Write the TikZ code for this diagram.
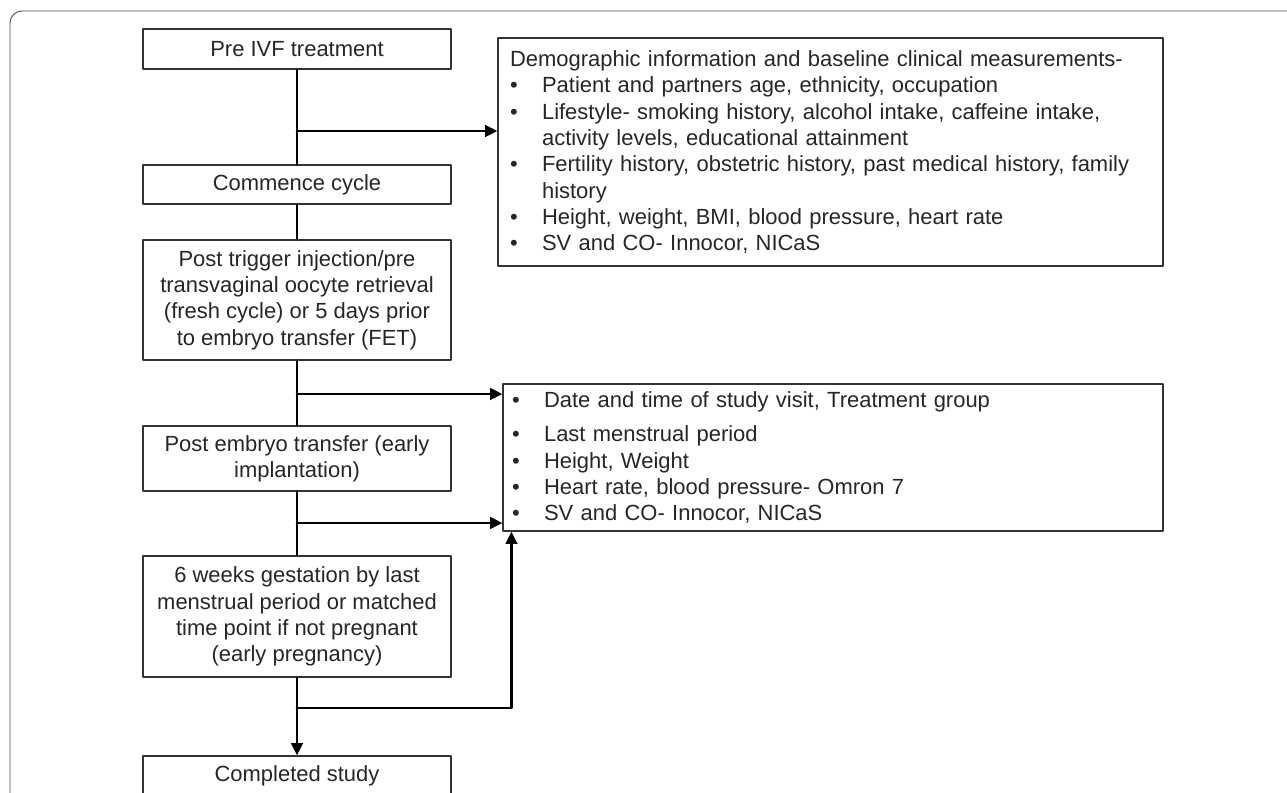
\documentclass[tikz,border=0pt]{standalone}
\usepackage{fontspec}
\setmainfont{Liberation Sans}
\usepackage{tikz}
\usetikzlibrary{arrows.meta}

\newcommand\bpt{\makebox[0.64cm][l]{\textbullet}}
\newcommand\bgap{\hspace*{0.64cm}}

\begin{document}
\begin{tikzpicture}[line cap=round,line join=round,>={Triangle[length=7pt,width=6.5pt]},x=0.02cm,y=-0.02cm,
        stage/.style={draw=black!80,line width=0.7pt,minimum width=6.16cm,inner sep=0pt,align=center,text=black!85,font=\fontsize{12.5}{15}\selectfont},
        info/.style={draw=black!80,line width=0.7pt,align=left,inner ysep=0pt,text=black!85,font=\fontsize{12.5}{15}\selectfont},
        link/.style={line width=1.6pt}]
        \clip (0,0) rectangle (1287,792);
        % outer frame
        \draw [black!70,line width=0.5pt,rounded corners=0.24cm] (10,820) -- (10,11) -- (1320,11);
        % stages
        \node [stage,minimum height=0.8cm] (pre) at (297,49) {Pre IVF treatment};
        \node [stage,minimum height=0.78cm] (cyc) at (297,184.5) {Commence cycle};
        \node [stage,minimum height=2.4cm] (trig) at (297,300) {Post trigger injection/pre\\transvaginal oocyte retrieval\\(fresh cycle) or 5 days prior\\to embryo transfer (FET)};
        \node [stage,minimum height=1.3cm] (emb) at (297,458.5) {Post embryo transfer (early\\implantation)};
        \node [stage,minimum height=2.42cm] (gest) at (297,616.5) {6 weeks gestation by last\\menstrual period or matched\\time point if not pregnant\\(early pregnancy)};
        \node [stage,minimum height=0.8cm] (done) at (297,776) {Completed study};
        % measurement boxes
        \node [info,minimum width=13.3cm,minimum height=4.56cm,text width=12.82cm,inner xsep=0.24cm] (demo) at (830.5,152) {Demographic information and baseline clinical measurements-\\
                \bpt Patient and partners age, ethnicity, occupation\\
                \bpt Lifestyle- smoking history, alcohol intake, caffeine intake,\\
                \bgap activity levels, educational attainment\\
                \bpt Fertility history, obstetric history, past medical history, family\\
                \bgap history\\
                \bpt Height, weight, BMI, blood pressure, heart rate\\
                \bpt SV and CO- Innocor, NICaS};
        \node [info,minimum width=13.2cm,minimum height=2.94cm,text width=12.84cm,inner xsep=0.18cm] (visit) at (833,457.5) {\bpt Date and time of study visit, Treatment group\\[4.5pt]
                \bpt Last menstrual period\\
                \bpt Height, Weight\\
                \bpt Heart rate, blood pressure- Omron 7\\
                \bpt SV and CO- Innocor, NICaS};
        % trunk
        \draw [link] (pre) -- (cyc);
        \draw [link] (cyc) -- (trig);
        \draw [link] (trig) -- (emb);
        \draw [link] (emb) -- (gest);
        \draw [link,->] (gest) -- (done);
        % branches
        \coordinate (j1) at (297,131);
        \coordinate (j2) at (297,394);
        \coordinate (j3) at (297,523);
        \coordinate (j4) at (297,708);
        \coordinate (k4) at ([xshift=0.18cm]visit.south west);
        \draw [link,->] (j1) -- (j1 -| demo.west);
        \draw [link,->] (j2) -- (j2 -| visit.west);
        \draw [link,->] (j3) -- (j3 -| visit.west);
        \draw [link,->] (j4) -- (j4 -| k4) -- (k4);
\end{tikzpicture}
\end{document}
